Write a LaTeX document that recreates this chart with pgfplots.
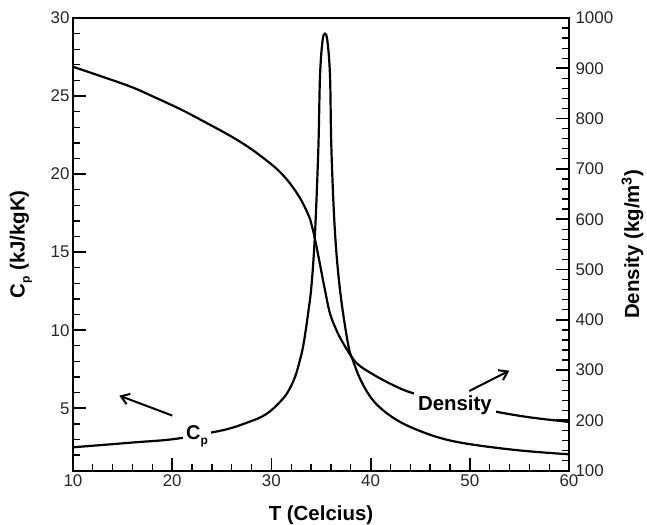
\documentclass[border=0pt]{standalone}
\usepackage{pgfplots}
\pgfplotsset{compat=1.18}
\usepackage{fontspec}
\setmainfont{Liberation Sans}
\usetikzlibrary{arrows.meta}
\newcommand\subp{\raisebox{-0.45ex}{\fontsize{12}{12}\selectfont p}}
\begin{document}
\begin{tikzpicture}
\path[use as bounding box] (-73bp,-54.3bp) rectangle (574bp,470.7bp);
\pgfplotsset{
  common/.style={
    at={(0,0)}, anchor=south west,
    scale only axis, width=496bp, height=452.7bp,
    xmin=10, xmax=60,
    tick align=inside,
    major tick length=13bp, minor tick length=7bp,
    every tick/.style={line width=1.8bp, black},
    every minor tick/.style={line width=1.3bp, black},
    tick label style={font=\fontsize{17}{17}\selectfont, text=black!85},
    /pgf/number format/assume math mode=true,
    /pgf/number format/1000 sep={},
    axis line style={line width=2bp},
    label style={font=\bfseries\fontsize{20.5}{20.5}\selectfont},
  }
}
\begin{axis}[common,
  ymin=1, ymax=30,
  xtick={10,20,...,60}, minor xtick={12,14,...,58},
  ytick={5,10,...,30}, minor ytick={2,3,...,29},
  xtick pos=bottom, ytick pos=left,
  xlabel={T (Celcius)},
  xlabel style={at={(axis description cs:0.5,-0.098)}, anchor=center},
  ylabel={C\subp\ (kJ/kgK)},
  ylabel style={at={(axis description cs:-0.105,0.5)}, anchor=center},
]
\addplot[line width=2.2bp, black, smooth, tension=0.6] coordinates {
(10,2.50) (13,2.65) (16.08,2.81) (20.1,3.02) (24,3.45) (26,3.74) (27.84,4.15)
(29,4.45) (30.03,4.89) (31.2,5.64) (31.8,6.2) (32.38,7.0) (32.8,7.9) (33.22,9.04) (33.72,11.17)
(34.06,13.0) (34.4,16.27) (34.73,21.58) (34.9,26.26) (35.15,28.5)
(35.4,29.0) (35.65,28.5) (35.91,26.26) (36.05,21.58) (36.41,16.27)
(36.95,12.4) (37.75,9.04) (38.2,8.1) (38.93,6.9)
(39.9,5.8) (40.95,5.04) (42.5,4.3) (44.3,3.72) (47,3.1) (50,2.7)
(55,2.3) (60,2.05)
};
\node[fill=white, inner sep=3bp, font=\bfseries\fontsize{20}{20}\selectfont]
  at (axis cs:22.5,3.21) {C\subp};
\draw[line width=2bp, -{Straight Barb[length=8bp,width=11bp]}]
  (axis cs:20.01,4.53) -- (axis cs:14.67,5.81);
\end{axis}
\begin{axis}[common,
  ymin=100, ymax=1000,
  axis x line=none, axis y line*=right,
  ytick={100,200,...,1000}, minor ytick={120,140,...,980},
  ytick pos=right,
  yticklabel style={xshift=3bp},
  ylabel={Density (kg/m\textsuperscript{3})},
  ylabel style={at={(axis description cs:1.128,0.5)}, anchor=center, rotate=0},
]
\addplot[line width=2.2bp, black, smooth, tension=0.6] coordinates {
(10,903) (13,883) (16,862) (18.5,840) (21,817) (23.5,791) (26,764) (28,739)
(30,709) (31,691) (32,668) (33,638) (33.8,605) (34.1,585) (34.4,560) (34.9,510) (35.4,459)
(35.9,413) (36.5,382) (37.1,358) (38.2,323) (39,307) (39.87,296)
(41,283) (42.5,268) (44.3,254) (48.5,233)
(52.71,217) (56.07,206) (60,197)
};
\node[fill=white, inner sep=4bp, font=\bfseries\fontsize{20.5}{20.5}\selectfont]
  at (axis cs:48.5,230.6) {Density};
\draw[line width=2bp, -{Straight Barb[length=8bp,width=11bp]}]
  (axis cs:49.95,258.4) -- (axis cs:53.98,298.8);
\end{axis}
\end{tikzpicture}
\end{document}
